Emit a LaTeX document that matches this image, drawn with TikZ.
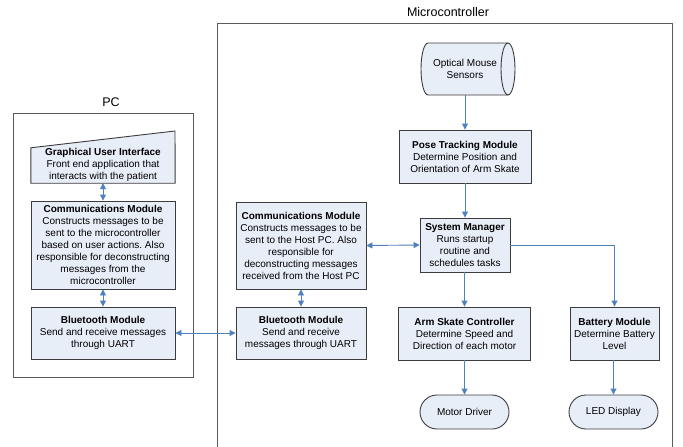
\documentclass[tikz,border=0pt]{standalone}
\usepackage{fontspec}
\setmainfont{Liberation Sans}
\usetikzlibrary{arrows.meta}
\frenchspacing
\definecolor{boxfill}{RGB}{232,238,248}
\definecolor{boxline}{RGB}{60,60,60}
\definecolor{frameline}{RGB}{90,90,90}
\definecolor{arrowblue}{RGB}{79,129,189}
\tikzset{
  txt/.style={font=\fontsize{10}{12}\selectfont, align=center, inner sep=0pt},
  modbox/.style={txt, draw=boxline, fill=boxfill, line width=0.9pt},
  ghost/.style={txt, draw=none},
  term/.style={modbox, rounded corners=17pt},
  flow/.style={draw=arrowblue, line width=0.9pt, -{Triangle[length=6pt,width=6pt]}},
  biflow/.style={draw=arrowblue, line width=0.9pt, {Triangle[length=6pt,width=6pt]}-{Triangle[length=6pt,width=6pt]}},
  frame/.style={draw=frameline, line width=0.9pt},
  title/.style={font=\fontsize{12.5}{14}\selectfont, inner sep=0pt}
}
\begin{document}
\begin{tikzpicture}[x=1pt,y=-1pt]
\useasboundingbox[fill=white] (0,0) rectangle (683,447);

% frames
\draw[frame] (13,113) rectangle (193,377);
\node[title] (pctitle) at (111,102) {PC};
\draw[frame] (217,460) |- (672,23) -- (672,460);
\node[title] (mctitle) at (448,12) {Microcontroller};

% PC side
\node[ghost, minimum width=144pt, minimum height=35pt] (gui) at (103,165.5) {};
\filldraw[draw=boxline, fill=boxfill, line width=0.9pt]
  (gui.north west) -- (175,131) -- (gui.south east) -- (gui.south west) -- cycle;
\node[txt] (guitext) at (103,164.5) {\textbf{Graphical User Interface}\\Front end application that\\interacts with the patient};

\node[modbox, minimum width=144pt, minimum height=88pt] (pccomm) at (103,245)
  {\textbf{Communications Module}\\Constructs messages to be\\sent to the microcontroller\\based on user actions. Also\\responsible for deconstructing\\messages from the\\microcontroller};
\node[modbox, minimum width=144pt, minimum height=52pt] (pcbt) at (103,333)
  {\textbf{Bluetooth Module}\\Send and receive messages\\through UART};

% Microcontroller side
\node[ghost, minimum width=94pt, minimum height=52pt] (opt) at (468,69) {};
\filldraw[draw=boxline, fill=boxfill, line width=0.9pt]
  (428,43) -- (508,43) arc[start angle=90, end angle=-90, x radius=7pt, y radius=26pt]
  -- (428,95) arc[start angle=270, end angle=90, x radius=7pt, y radius=26pt] -- cycle;
\draw[draw=boxline, line width=0.9pt] (508,43) arc[start angle=90, end angle=270, x radius=7pt, y radius=26pt];
\node[txt] (opttext) at (465,69) {Optical Mouse\\Sensors};

\node[modbox, minimum width=132pt, minimum height=53pt] (pose) at (465,156.5)
  {\textbf{Pose Tracking Module}\\Determine Position and\\Orientation of Arm Skate};
\node[modbox, minimum width=90pt, minimum height=54pt] (sm) at (465,245)
  {\textbf{System Manager}\\Runs startup\\routine and\\schedules tasks};
\node[modbox, minimum width=130pt, minimum height=87pt] (mccomm) at (301,245.5)
  {\textbf{Communications Module}\\Constructs messages to be\\sent to the Host PC. Also\\responsible for\\deconstructing messages\\received from the Host PC};
\node[modbox, minimum width=130pt, minimum height=52pt] (mcbt) at (301,333)
  {\textbf{Bluetooth Module}\\Send and receive\\messages through UART};
\node[modbox, minimum width=132pt, minimum height=53pt] (arm) at (464.5,333.5)
  {\textbf{Arm Skate Controller}\\Determine Speed and\\Direction of each motor};
\node[modbox, minimum width=89pt, minimum height=53pt] (bat) at (614.5,333.5)
  {\textbf{Battery Module}\\Determine Battery\\Level};
\node[term, minimum width=89pt, minimum height=34pt] (motor) at (464.5,412) {Motor Driver};
\node[term, minimum width=89pt, minimum height=34pt] (led) at (613.5,412) {LED Display};

% connectors
\draw[biflow] (gui.south) -- (pccomm.north);
\draw[biflow] (pccomm.south) -- (pcbt.north);
\draw[biflow] (pcbt.east) -- (mcbt.west);
\draw[biflow] (mccomm.south) -- (mcbt.north);
\draw[biflow] (mccomm.east) -- (sm.west);
\draw[flow] (opt.south -| pose.north) -- (pose.north);
\draw[flow] (pose.south) -- (sm.north -| pose.south);
\draw[flow] (sm.south -| arm.north) -- (arm.north);
\draw[flow] (sm.east) -| (bat.north);
\draw[flow] (arm.south) -- (motor.north);
\draw[flow] (bat.south -| led.north) -- (led.north);
\end{tikzpicture}
\end{document}
